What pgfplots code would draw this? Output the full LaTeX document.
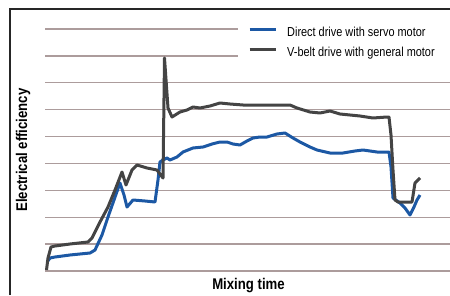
\documentclass[border=0pt]{standalone}
\usepackage{fontspec}
\setmainfont{Liberation Sans}
\newfontfamily\legfont[FakeStretch=0.84]{Liberation Sans}
\newfontfamily\labfont[FakeStretch=0.85]{Liberation Sans}
\usepackage{pgfplots}
\pgfplotsset{compat=1.18}
\definecolor{blueline}{RGB}{28,88,164}
\definecolor{darkline}{RGB}{68,68,68}
\definecolor{gridc}{RGB}{172,156,156}
\begin{document}
\begin{tikzpicture}
\begin{axis}[
  at={(45pt,24pt)}, anchor=south west,
  scale only axis, width=405pt, height=242pt,
  xmin=45, xmax=450, ymin=29, ymax=271, y dir=reverse,
  axis line style={draw=none},
  xtick=\empty,
  ytick={29,55.89,82.78,109.67,136.56,163.44,190.33,217.22,244.11,271},
  yticklabels={},
  major tick length=0pt,
  ymajorgrids,
  grid style={color=gridc, line width=1.4pt},
  clip=false,
  legend style={at={(0.501,1.010)}, anchor=north west, draw=none, fill=none,
    inner sep=0pt, font=\legfont\fontsize{13}{15}\selectfont,
    nodes={inner xsep=5pt, inner ysep=0pt, text height=10pt, text depth=3pt},
    row sep=7pt},
  legend cell align=left,
  legend image code/.code={\draw[#1, line width=3.2pt] (0pt,3.5pt) -- (26pt,3.5pt); \path (31pt,3.5pt);},
]
\fill[white] (axis cs:238,14) rectangle (axis cs:452,64);
\addplot[blueline, line width=3pt, line join=round] coordinates {
(47,262) (50,258) (55,257) (70,255) (90,253) (95,250) (102,235) (108,217)
(114,200) (120,183) (124,195) (127,207) (133,200) (145,201) (155,202)
(158,180) (160,162) (163,160) (167,158) (170,160) (177,157) (183,152)
(193,148) (203,147) (212,144) (220,142) (227,142) (233,144) (240,145)
(247,141) (253,138) (260,137) (267,137) (277,134) (285,133) (293,138)
(300,142) (310,147) (317,150) (330,153) (343,153) (355,151) (363,150)
(377,152) (389,152) (391,167) (393,198) (400,203) (405,208) (410,215)
(414,207) (417,200) (420,195)
};
\addlegendentry{Direct drive with servo motor}
\addplot[darkline, line width=3pt, line join=round] coordinates {
(46.5,270) (48,258) (51,247) (55,246) (70,244) (88,242) (92,238) (100,222)
(108,207) (115,190) (122,172) (126,185) (132,170) (137,165) (147,168)
(157,170) (163,178) (164.5,58) (168,108) (172,117) (180,112) (187,110)
(193,107) (200,108) (210,106) (220,103) (230,104) (243,105) (260,105)
(275,105) (290,105) (297,108) (310,112) (320,113) (330,111) (340,114)
(350,115) (360,116) (373,118) (387,117) (389,117) (391,135) (393,170)
(395,200) (398,202) (412,202) (415,183) (420,178)
};
\addlegendentry{V-belt drive with general motor}
\end{axis}
\draw[line width=1.2pt, color=black!85] (10pt,0pt) -- (10pt,286pt) -- (450pt,286pt);
\node[rotate=90, font=\labfont\bfseries\fontsize{15.5}{17}\selectfont, inner sep=0pt] at (23pt,145pt) {Electrical efficiency};
\node[font=\labfont\bfseries\fontsize{15.5}{17}\selectfont, inner sep=0pt] at (248.5pt,9pt) {Mixing time};
\pgfresetboundingbox
\useasboundingbox (0pt,0pt) rectangle (450pt,295pt);
\end{tikzpicture}
\end{document}
